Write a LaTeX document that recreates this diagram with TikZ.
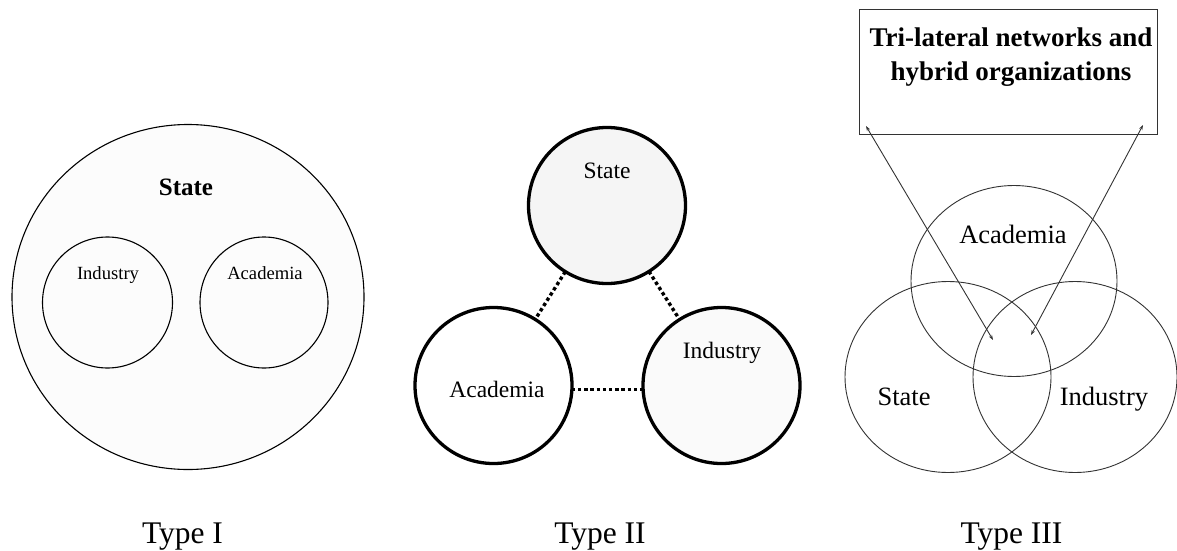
\documentclass[tikz,border=0pt]{standalone}
\usepackage{fontspec}
\setmainfont{Liberation Serif}
\usetikzlibrary{shapes.geometric,arrows.meta}
\begin{document}
\begin{tikzpicture}[x=1pt,y=-1pt,
  ring/.style={draw, ellipse, inner sep=0pt, outer sep=0pt},
  thinring/.style={ring, line width=1.1pt},
  boldring/.style={ring, line width=3.3pt, minimum width=157pt, minimum height=156pt},
  vennring/.style={ring, line width=0.9pt, draw=black!80, minimum width=206pt, minimum height=191pt},
  dotlink/.style={line width=3.4pt, dash pattern=on 3.4pt off 2.8pt},
  arrowline/.style={line width=0.9pt, draw=black!80,
    {Stealth[length=5pt,width=3.5pt]}-{Stealth[length=5pt,width=3.5pt]}},
  lbl/.style={anchor=base, inner sep=0pt},
  typelbl/.style={lbl, font=\fontsize{31.5}{36}\selectfont}]
\useasboundingbox (0,0) rectangle (1177,551);

% ---- Type I: state containing industry and academia
\node[thinring, fill=black!1, minimum width=352pt, minimum height=345pt] (s1) at (188,297) {};
\node[thinring, minimum width=130pt, minimum height=131pt] (i1) at (107.5,302.5) {};
\node[thinring, minimum width=128pt, minimum height=131pt] (a1) at (264,302.5) {};
\node[lbl, font=\bfseries\fontsize{25}{30}\selectfont] (s1t) at (186,195) {State};
\node[lbl, font=\fontsize{18.6}{22}\selectfont] (i1t) at (108,279) {Industry};
\node[lbl, font=\fontsize{18.6}{22}\selectfont] (a1t) at (265,279) {Academia};

% ---- Type II: three separate spheres linked by dotted lines
\node[boldring, fill=black!4] (s2) at (607,205.5) {};
\node[boldring] (a2) at (493.5,385.5) {};
\node[boldring, fill=black!2] (i2) at (721.5,385.5) {};
\draw[dotlink] (s2) -- (a2);
\draw[dotlink] (s2) -- (i2);
\draw[dotlink] (a2.-3) -- (i2.183);
\node[lbl, font=\fontsize{23.5}{28}\selectfont] (s2t) at (607,178) {State};
\node[lbl, font=\fontsize{23.5}{28}\selectfont] (a2t) at (497,397) {Academia};
\node[lbl, font=\fontsize{23.5}{28}\selectfont] (i2t) at (722,358) {Industry};

% ---- Type III: overlapping spheres and hybrid organizations
\node[vennring] (a3) at (1014,281) {};
\node[vennring] (s3) at (948,377) {};
\node[vennring, minimum width=204pt] (i3) at (1075,377) {};
\node[lbl, font=\fontsize{26.5}{31}\selectfont] (a3t) at (1013,243) {Academia};
\node[lbl, font=\fontsize{26.5}{31}\selectfont] (s3t) at (904,405) {State};
\node[lbl, font=\fontsize{26.5}{31}\selectfont] (i3t) at (1104,405) {Industry};

\node[draw=black!80, line width=0.9pt, rectangle, inner sep=0pt, outer sep=0pt,
      minimum width=298pt, minimum height=125pt] (box) at (1008,71.5) {};
\node[font=\bfseries\fontsize{27}{34}\selectfont, align=center, inner sep=0pt] (boxt) at (1011,57)
  {Tri-lateral networks and\\hybrid organizations};

\coordinate (l1) at (866,126);
\coordinate (l2) at (993,340);
\coordinate (r1) at (1143,125);
\coordinate (r2) at (1031,335);
\draw[arrowline] (l2) -- (l1);
\draw[arrowline] (r2) -- (r1);

% ---- captions
\node[typelbl] (c1) at (182.5,543) {Type I};
\node[typelbl] (c2) at (600,543) {Type II};
\node[typelbl] (c3) at (1011.5,543) {Type III};
\end{tikzpicture}
\end{document}
